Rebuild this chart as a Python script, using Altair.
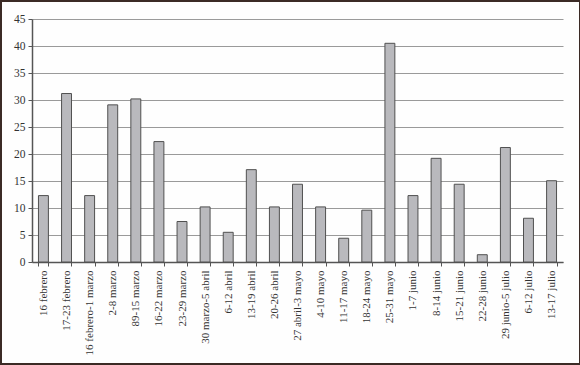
import altair as alt
import pandas as pd

semanas = ["16 febrero", "17-23 febrero", "16 febrero-1 marzo", "2-8 marzo", "89-15 marzo",
           "16-22 marzo", "23-29 marzo", "30 marzo-5 abril", "6-12 abril", "13-19 abril",
           "20-26 abril", "27 abril-3 mayo", "4-10 mayo", "11-17 mayo", "18-24 mayo",
           "25-31 mayo", "1-7 junio", "8-14 junio", "15-21 junio", "22-28 junio",
           "29 junio-5 julio", "6-12 julio", "13-17 julio"]
valores = [12.3, 31.2, 12.3, 29.1, 30.2, 22.3, 7.5, 10.2, 5.5, 17.1, 10.2, 14.4,
           10.2, 4.4, 9.6, 40.5, 12.3, 19.2, 14.4, 1.35, 21.2, 8.1, 15.05]

df = pd.DataFrame({"semana": semanas, "valor": valores})

FONT = "Liberation Serif"

bars = alt.Chart(df).mark_bar(
    color="#b9b9bd", stroke="#505050", strokeWidth=1
).encode(
    x=alt.X("semana:N", sort=semanas, title=None,
            scale=alt.Scale(paddingInner=0.57, paddingOuter=0.28),
            axis=alt.Axis(labelAngle=270, labelAlign="right", labelBaseline="middle",
                          tickBand="extent", tickSize=4, tickColor="#555",
                          domainColor="#555", domainWidth=1.5, labelPadding=4,
                          labelFont=FONT, labelFontSize=11, labelColor="#333",
                          grid=False)),
    y=alt.Y("valor:Q", title=None,
            scale=alt.Scale(domain=[0, 45], nice=False),
            axis=alt.Axis(values=list(range(0, 46, 5)), tickSize=4, tickColor="#555",
                          domainColor="#555", domainWidth=1.5, labelPadding=3,
                          labelFont=FONT, labelFontSize=11.5, labelColor="#333",
                          gridColor="#9a9a9a", gridWidth=1)),
)

frame = alt.Chart(df).mark_rect(
    fill=None, stroke="#3b2a25", strokeWidth=2
).encode(
    x=alt.value(-31), x2=alt.value(548), y=alt.value(-18), y2=alt.value(345)
)

chart = alt.layer(bars, frame).properties(
    width=531, height=243,
    autosize=alt.AutoSizeParams(type="none"),
    padding={"left": 32, "top": 19, "right": 17, "bottom": 103},
    background="#fefefe",
).configure_view(stroke=None)

chart.save("out.html", embed_options={"renderer": "svg", "actions": False})
